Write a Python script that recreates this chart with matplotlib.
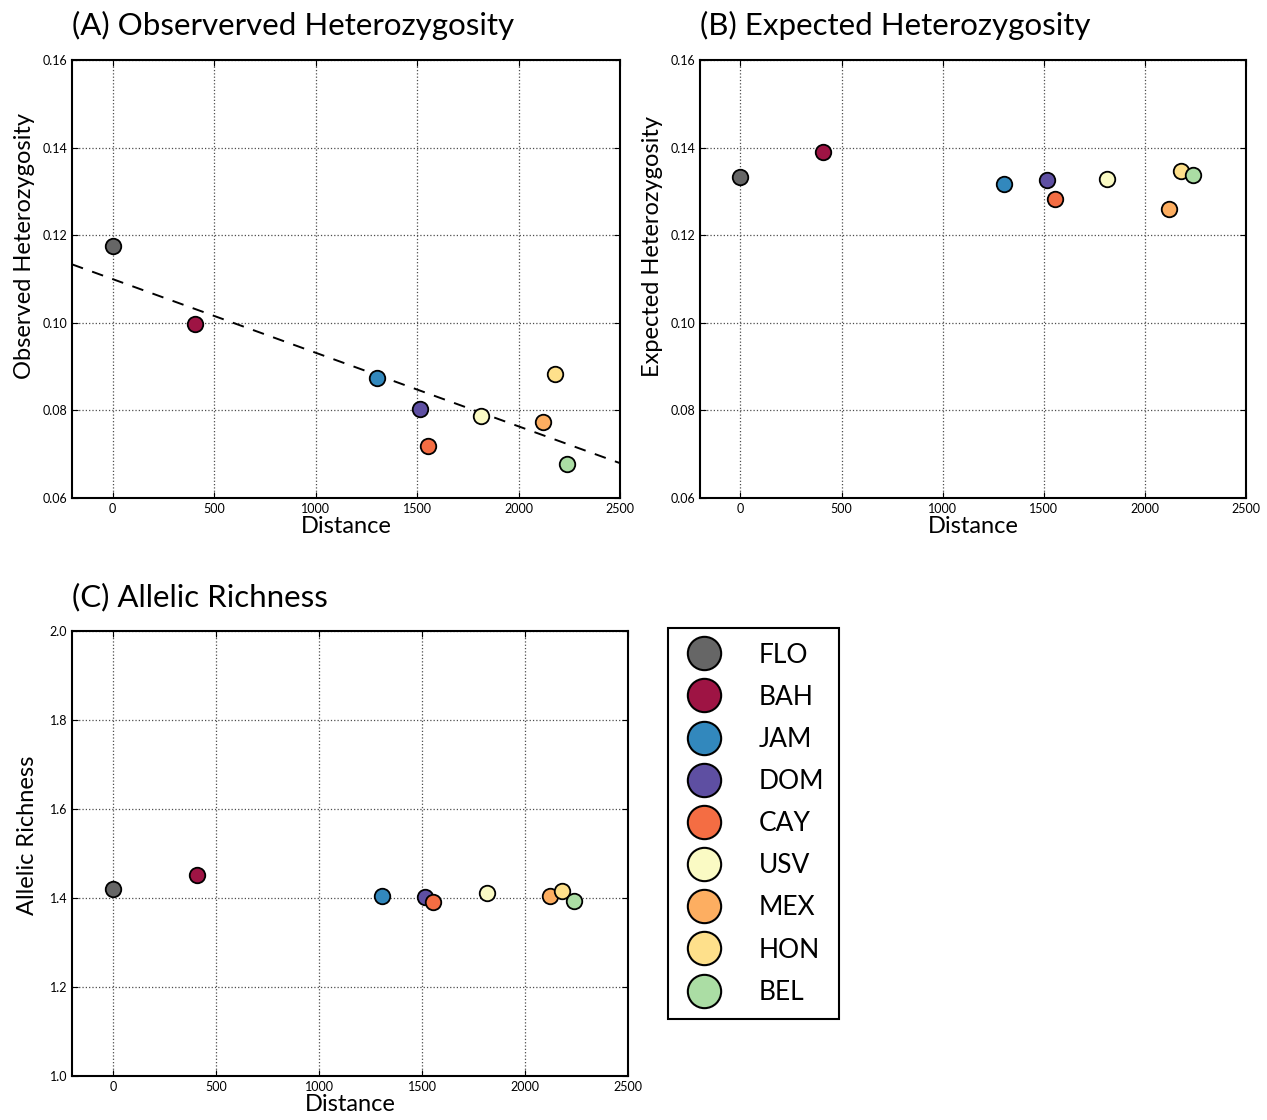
import numpy as np
import matplotlib
matplotlib.use("Agg")
import matplotlib.pyplot as plt
from matplotlib.lines import Line2D

plt.rcParams['font.family'] = ['Lato', 'DejaVu Sans']

sites = ["FLO", "BAH", "JAM", "DOM", "CAY", "USV", "MEX", "HON", "BEL"]
colors = ["#666666", "#9e1444", "#3288bd", "#5e4fa2", "#f46d43",
          "#fafac4", "#fdae61", "#fee08b", "#abdda4"]
distance = [0, 408, 1303, 1516, 1555, 1814, 2120, 2179, 2237]
obs_het = [0.1176, 0.0998, 0.0874, 0.0803, 0.0718, 0.0788, 0.0773, 0.0883, 0.0678]
exp_het = [0.1333, 0.1389, 0.1316, 0.1325, 0.1282, 0.1328, 0.1260, 0.1347, 0.1337]
allelic_rich = [1.420, 1.452, 1.405, 1.402, 1.390, 1.411, 1.405, 1.415, 1.393]

W, H = 1267, 1120
fig = plt.figure(figsize=(W / 100, H / 100), dpi=100)

ax_a = fig.add_axes([72 / W, 1 - 498 / H, 548 / W, 438 / H])
ax_b = fig.add_axes([700 / W, 1 - 498 / H, 546 / W, 438 / H])
ax_c = fig.add_axes([72 / W, 1 - 1076 / H, 556 / W, 445 / H])


def style(ax, ylim, yticks, fmt):
    ax.set_xlim(-200, 2500)
    ax.set_ylim(*ylim)
    ax.set_xticks([0, 500, 1000, 1500, 2000, 2500])
    ax.set_yticks(yticks)
    ax.set_yticklabels([fmt.format(v) for v in yticks])
    ax.tick_params(direction="in", top=True, right=True, labelsize=9,
                   length=4, width=0.8)
    ax.grid(True, linestyle=":", color="0.3", linewidth=0.9)
    ax.set_axisbelow(True)
    for sp in ax.spines.values():
        sp.set_linewidth(1.5)
    ax.set_xlabel("Distance", fontsize=17, labelpad=1)


def points(ax, yvals):
    for x, y, c in zip(distance, yvals, colors):
        ax.scatter(x, y, s=125, color=c, edgecolors="k", linewidths=1.3, zorder=3)


het_ticks = [0.06, 0.08, 0.10, 0.12, 0.14, 0.16]

# (A)
style(ax_a, (0.06, 0.16), het_ticks, "{:.2f}")
slope, intercept = np.polyfit(distance, obs_het, 1)
xs = np.array([-200, 2500])
ax_a.plot(xs, slope * xs + intercept, "k--", lw=1.4, dashes=(6, 5), zorder=2)
points(ax_a, obs_het)
ax_a.set_ylabel("Observed Heterozygosity", fontsize=17, labelpad=5, y=0.575)
ax_a.set_title("(A) Observerved Heterozygosity", loc="left", fontsize=22.5, pad=18)

# (B)
style(ax_b, (0.06, 0.16), het_ticks, "{:.2f}")
points(ax_b, exp_het)
ax_b.set_ylabel("Expected Heterozygosity", fontsize=17, labelpad=5, y=0.575)
ax_b.set_title("(B) Expected Heterozygosity", loc="left", fontsize=22.5, pad=18)

# (C)
style(ax_c, (1.0, 2.0), [1.0, 1.2, 1.4, 1.6, 1.8, 2.0], "{:.1f}")
points(ax_c, allelic_rich)
ax_c.set_ylabel("Allelic Richness", fontsize=17, labelpad=8, y=0.54)
ax_c.set_title("(C) Allelic Richness", loc="left", fontsize=22.5, pad=18)

handles = [Line2D([], [], marker="o", linestyle="", markersize=24,
                  markerfacecolor=c, markeredgecolor="k", markeredgewidth=1.5)
           for c in colors]
leg = fig.legend(handles, sites, loc="upper left",
                 bbox_to_anchor=(668 / W, 1 - 628 / H), borderaxespad=0,
                 fontsize=19, labelspacing=0.65, handlelength=1.6,
                 handletextpad=1.3, borderpad=0.55, fancybox=False,
                 edgecolor="k", framealpha=1)
leg.get_frame().set_linewidth(1.5)

fig.savefig("out.png", dpi=100)
